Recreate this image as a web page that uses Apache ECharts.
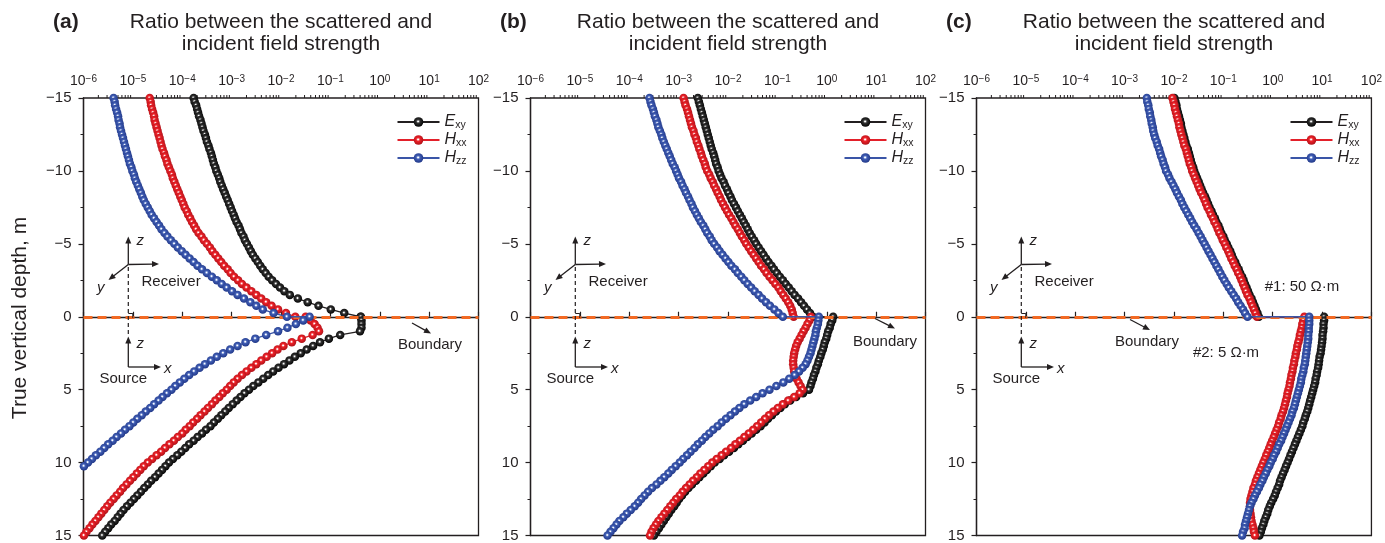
<!DOCTYPE html>
<html><head><meta charset="utf-8">
<script src="https://cdn.jsdelivr.net/npm/echarts@6/dist/echarts.min.js"></script>
<style>html,body{margin:0;padding:0;background:#fff;}#c{width:1385px;height:543px;}</style>
</head><body><div id="c"></div>
<script>
// ---------------- DATA ----------------
const depthUpper = [-15,-14.75,-14.5,-14.25,-14,-13.75,-13.5,-13.25,-13,-12.75,-12.5,-12.25,-12,-11.75,-11.5,-11.25,-11,-10.75,-10.5,-10.25,-10,-9.75,-9.5,-9.25,-9,-8.75,-8.5,-8.25,-8,-7.75,-7.5,-7.25,-7,-6.75,-6.5,-6.25,-6,-5.75,-5.5,-5.25,-5,-4.75,-4.5,-4.25,-4,-3.75,-3.5,-3.25,-3,-2.75,-2.5,-2.25,-2,-1.75,-1.5,-1.25,-1,-0.75,-0.5,-0.25,0];
const depthLower = [0,0.25,0.5,0.75,1,1.25,1.5,1.75,2,2.25,2.5,2.75,3,3.25,3.5,3.75,4,4.25,4.5,4.75,5,5.25,5.5,5.75,6,6.25,6.5,6.75,7,7.25,7.5,7.75,8,8.25,8.5,8.75,9,9.25,9.5,9.75,10,10.25,10.5,10.75,11,11.25,11.5,11.75,12,12.25,12.5,12.75,13,13.25,13.5,13.75,14,14.25,14.5,14.75,15];

// panel (a)
const a_Exy_up = [1.70e-4,1.78e-4,1.91e-4,2.00e-4,2.09e-4,2.19e-4,2.34e-4,2.45e-4,2.57e-4,2.69e-4,2.88e-4,3.02e-4,3.16e-4,3.39e-4,3.55e-4,3.80e-4,3.98e-4,4.17e-4,4.37e-4,4.68e-4,4.90e-4,5.25e-4,5.62e-4,5.89e-4,6.31e-4,6.76e-4,7.24e-4,7.76e-4,8.32e-4,8.91e-4,9.55e-4,1.02e-3,1.10e-3,1.17e-3,1.26e-3,1.38e-3,1.48e-3,1.58e-3,1.74e-3,1.86e-3,2.04e-3,2.24e-3,2.45e-3,2.69e-3,3.02e-3,3.39e-3,3.80e-3,4.27e-3,4.90e-3,5.62e-3,6.61e-3,7.94e-3,9.55e-3,1.17e-2,1.51e-2,2.19e-2,3.47e-2,5.75e-2,0.102,0.191,0.407];
const a_Exy_dn = [0.417,0.427,0.427,0.427,0.398,0.158,9.33e-2,6.17e-2,4.47e-2,3.31e-2,2.51e-2,1.91e-2,1.48e-2,1.15e-2,8.91e-3,6.92e-3,5.50e-3,4.37e-3,3.47e-3,2.75e-3,2.24e-3,1.82e-3,1.51e-3,1.26e-3,1.05e-3,8.71e-4,7.41e-4,6.17e-4,5.25e-4,4.37e-4,3.72e-4,3.02e-4,2.51e-4,2.04e-4,1.70e-4,1.38e-4,1.15e-4,9.55e-5,7.94e-5,6.46e-5,5.37e-5,4.57e-5,3.89e-5,3.31e-5,2.82e-5,2.34e-5,2.00e-5,1.70e-5,1.45e-5,1.23e-5,1.05e-5,8.91e-6,7.59e-6,6.46e-6,5.62e-6,4.90e-6,4.27e-6,3.63e-6,3.16e-6,2.75e-6,2.40e-6];
const a_Hxx_up = [2.19e-5,2.29e-5,2.34e-5,2.45e-5,2.57e-5,2.69e-5,2.75e-5,2.88e-5,3.02e-5,3.16e-5,3.31e-5,3.47e-5,3.63e-5,3.80e-5,3.98e-5,4.27e-5,4.47e-5,4.79e-5,5.01e-5,5.37e-5,5.75e-5,6.17e-5,6.46e-5,6.92e-5,7.41e-5,7.94e-5,8.51e-5,9.12e-5,9.77e-5,1.05e-4,1.12e-4,1.23e-4,1.32e-4,1.45e-4,1.58e-4,1.74e-4,1.91e-4,2.14e-4,2.45e-4,2.75e-4,3.16e-4,3.63e-4,4.07e-4,4.68e-4,5.37e-4,6.17e-4,7.08e-4,8.32e-4,9.55e-4,1.12e-3,1.35e-3,1.62e-3,2.00e-3,2.51e-3,3.16e-3,3.98e-3,5.01e-3,6.46e-3,8.71e-3,1.26e-2,1.95e-2];
const a_Hxx_dn = [3.16e-2,3.98e-2,4.79e-2,5.50e-2,5.89e-2,4.37e-2,2.63e-2,1.66e-2,1.12e-2,8.51e-3,6.61e-3,5.13e-3,3.98e-3,3.16e-3,2.51e-3,2.00e-3,1.62e-3,1.32e-3,1.10e-3,9.33e-4,7.94e-4,6.61e-4,5.62e-4,4.68e-4,3.98e-4,3.31e-4,2.82e-4,2.34e-4,2.00e-4,1.66e-4,1.41e-4,1.17e-4,1.00e-4,8.13e-5,6.76e-5,5.50e-5,4.47e-5,3.72e-5,3.02e-5,2.45e-5,2.00e-5,1.66e-5,1.41e-5,1.20e-5,1.02e-5,8.71e-6,7.41e-6,6.31e-6,5.50e-6,4.68e-6,4.07e-6,3.47e-6,3.02e-6,2.63e-6,2.29e-6,2.00e-6,1.74e-6,1.51e-6,1.32e-6,1.15e-6,1.02e-6];
const a_Hzz_up = [4.07e-6,4.27e-6,4.37e-6,4.57e-6,4.79e-6,5.01e-6,5.13e-6,5.37e-6,5.50e-6,5.75e-6,6.03e-6,6.31e-6,6.61e-6,6.92e-6,7.24e-6,7.59e-6,7.94e-6,8.32e-6,8.71e-6,9.33e-6,9.77e-6,1.05e-5,1.10e-5,1.17e-5,1.26e-5,1.35e-5,1.45e-5,1.55e-5,1.66e-5,1.82e-5,2.00e-5,2.19e-5,2.40e-5,2.69e-5,3.02e-5,3.39e-5,3.80e-5,4.37e-5,5.01e-5,5.89e-5,6.92e-5,8.13e-5,9.77e-5,1.17e-4,1.41e-4,1.70e-4,2.04e-4,2.51e-4,3.16e-4,3.98e-4,5.01e-4,6.31e-4,7.94e-4,1.02e-3,1.32e-3,1.78e-3,2.40e-3,3.16e-3,4.27e-3,7.08e-3,1.32e-2];
const a_Hzz_dn = [3.80e-2,2.82e-2,2.00e-2,1.35e-2,8.71e-3,5.01e-3,3.02e-3,1.91e-3,1.32e-3,9.33e-4,6.76e-4,5.01e-4,3.80e-4,2.88e-4,2.24e-4,1.74e-4,1.38e-4,1.10e-4,8.91e-5,7.24e-5,6.03e-5,4.90e-5,3.98e-5,3.31e-5,2.69e-5,2.24e-5,1.82e-5,1.51e-5,1.23e-5,1.02e-5,8.51e-6,6.92e-6,5.75e-6,4.68e-6,3.89e-6,3.16e-6,2.63e-6,2.19e-6,1.78e-6,1.48e-6,1.23e-6,1.02e-6,8.51e-7];

// panel (b)
const b_Exy_up = [2.45e-3,2.57e-3,2.69e-3,2.82e-3,2.95e-3,3.09e-3,3.24e-3,3.39e-3,3.55e-3,3.72e-3,3.89e-3,4.07e-3,4.27e-3,4.47e-3,4.68e-3,5.01e-3,5.25e-3,5.50e-3,5.75e-3,6.17e-3,6.46e-3,6.92e-3,7.41e-3,8.13e-3,8.71e-3,9.55e-3,1.02e-2,1.12e-2,1.20e-2,1.32e-2,1.45e-2,1.58e-2,1.74e-2,1.91e-2,2.09e-2,2.29e-2,2.51e-2,2.75e-2,3.02e-2,3.39e-2,3.72e-2,4.17e-2,4.68e-2,5.25e-2,5.89e-2,6.61e-2,7.59e-2,8.51e-2,9.77e-2,0.112,0.129,0.148,0.170,0.195,0.224,0.263,0.302,0.347,0.398,0.457,0.525];
const b_Exy_dn = [1.35,1.29,1.20,1.15,1.07,1.02,0.977,0.912,0.871,0.832,0.776,0.741,0.692,0.661,0.617,0.589,0.550,0.525,0.490,0.468,0.437,0.331,0.240,0.182,0.141,0.115,9.33e-2,7.76e-2,6.46e-2,5.50e-2,4.57e-2,3.72e-2,3.02e-2,2.45e-2,2.00e-2,1.62e-2,1.32e-2,1.05e-2,8.32e-3,6.76e-3,5.37e-3,4.47e-3,3.72e-3,3.16e-3,2.63e-3,2.24e-3,1.86e-3,1.58e-3,1.35e-3,1.17e-3,1.02e-3,9.12e-4,8.13e-4,7.08e-4,6.31e-4,5.62e-4,5.01e-4,4.47e-4,3.98e-4,3.55e-4,3.16e-4];
const b_Hxx_up = [1.26e-3,1.32e-3,1.38e-3,1.48e-3,1.55e-3,1.62e-3,1.70e-3,1.78e-3,1.86e-3,2.00e-3,2.09e-3,2.24e-3,2.34e-3,2.51e-3,2.63e-3,2.82e-3,2.95e-3,3.16e-3,3.39e-3,3.55e-3,3.80e-3,4.17e-3,4.47e-3,4.90e-3,5.25e-3,5.75e-3,6.17e-3,6.76e-3,7.24e-3,7.94e-3,8.71e-3,9.55e-3,1.05e-2,1.17e-2,1.29e-2,1.41e-2,1.58e-2,1.74e-2,1.91e-2,2.14e-2,2.34e-2,2.63e-2,2.95e-2,3.31e-2,3.72e-2,4.17e-2,4.68e-2,5.37e-2,6.03e-2,6.92e-2,7.94e-2,9.12e-2,0.105,0.117,0.132,0.148,0.166,0.182,0.195,0.204,0.214];
const b_Hxx_dn = [0.479,0.447,0.407,0.372,0.339,0.309,0.282,0.257,0.240,0.229,0.219,0.214,0.209,0.209,0.214,0.219,0.229,0.245,0.269,0.295,0.324,0.282,0.219,0.166,0.129,0.102,8.32e-2,6.76e-2,5.62e-2,4.68e-2,3.89e-2,3.24e-2,2.63e-2,2.14e-2,1.74e-2,1.41e-2,1.15e-2,9.12e-3,7.41e-3,5.89e-3,4.79e-3,3.98e-3,3.31e-3,2.75e-3,2.34e-3,1.95e-3,1.66e-3,1.41e-3,1.20e-3,1.05e-3,8.91e-4,7.76e-4,6.76e-4,5.89e-4,5.13e-4,4.47e-4,3.89e-4,3.47e-4,3.09e-4,2.82e-4,2.63e-4];
const b_Hzz_up = [2.57e-4,2.69e-4,2.82e-4,3.02e-4,3.16e-4,3.31e-4,3.55e-4,3.72e-4,3.89e-4,4.17e-4,4.47e-4,4.68e-4,5.01e-4,5.37e-4,5.75e-4,6.17e-4,6.61e-4,7.08e-4,7.59e-4,8.32e-4,8.91e-4,9.55e-4,1.02e-3,1.12e-3,1.20e-3,1.32e-3,1.41e-3,1.55e-3,1.66e-3,1.82e-3,1.95e-3,2.14e-3,2.34e-3,2.57e-3,2.82e-3,3.16e-3,3.47e-3,3.80e-3,4.27e-3,4.68e-3,5.25e-3,6.03e-3,6.76e-3,7.76e-3,8.91e-3,1.02e-2,1.17e-2,1.38e-2,1.58e-2,1.86e-2,2.14e-2,2.51e-2,2.95e-2,3.47e-2,4.17e-2,4.90e-2,5.89e-2,7.08e-2,8.71e-2,0.105,0.129];
const b_Hzz_dn = [0.692,0.676,0.661,0.631,0.603,0.589,0.562,0.537,0.513,0.490,0.468,0.437,0.407,0.372,0.324,0.275,0.224,0.174,0.132,9.55e-2,6.92e-2,5.01e-2,3.72e-2,2.82e-2,2.14e-2,1.70e-2,1.38e-2,1.12e-2,9.12e-3,7.41e-3,6.17e-3,5.01e-3,4.17e-3,3.47e-3,2.95e-3,2.45e-3,2.09e-3,1.74e-3,1.48e-3,1.23e-3,1.05e-3,8.71e-4,7.24e-4,6.17e-4,5.13e-4,4.27e-4,3.55e-4,2.88e-4,2.40e-4,2.04e-4,1.74e-4,1.51e-4,1.29e-4,1.07e-4,8.91e-5,7.59e-5,6.31e-5,5.50e-5,4.79e-5,4.17e-5,3.63e-5];

// panel (c)
const c_Exy_up = [1.02e-2,1.07e-2,1.12e-2,1.15e-2,1.20e-2,1.26e-2,1.32e-2,1.38e-2,1.41e-2,1.48e-2,1.55e-2,1.62e-2,1.70e-2,1.78e-2,1.91e-2,2.00e-2,2.09e-2,2.19e-2,2.29e-2,2.45e-2,2.57e-2,2.75e-2,2.95e-2,3.16e-2,3.39e-2,3.63e-2,3.89e-2,4.27e-2,4.57e-2,4.90e-2,5.25e-2,5.75e-2,6.17e-2,6.76e-2,7.24e-2,7.94e-2,8.51e-2,9.12e-2,0.100,0.107,0.117,0.126,0.138,0.148,0.158,0.174,0.186,0.204,0.219,0.240,0.257,0.275,0.295,0.316,0.339,0.372,0.398,0.427,0.457,0.490,0.525];
const c_Exy_dn = [11.0,11.0,10.7,10.7,10.5,10.2,10.2,10.0,9.77,9.55,9.33,8.91,8.71,8.51,8.32,7.94,7.76,7.41,7.24,6.92,6.61,6.31,6.03,5.75,5.50,5.25,5.01,4.68,4.47,4.17,3.98,3.72,3.47,3.24,3.02,2.82,2.63,2.45,2.29,2.14,2.00,1.86,1.74,1.62,1.51,1.41,1.35,1.26,1.17,1.10,1.02,0.933,0.871,0.813,0.776,0.724,0.676,0.646,0.603,0.575,0.537];
const c_Hxx_up = [9.33e-3,9.77e-3,1.02e-2,1.05e-2,1.10e-2,1.15e-2,1.20e-2,1.26e-2,1.29e-2,1.35e-2,1.41e-2,1.48e-2,1.55e-2,1.62e-2,1.74e-2,1.82e-2,1.91e-2,2.00e-2,2.09e-2,2.24e-2,2.34e-2,2.51e-2,2.69e-2,2.88e-2,3.09e-2,3.31e-2,3.55e-2,3.89e-2,4.17e-2,4.47e-2,4.79e-2,5.25e-2,5.62e-2,6.17e-2,6.61e-2,7.24e-2,7.76e-2,8.32e-2,9.12e-2,9.77e-2,0.107,0.115,0.126,0.135,0.145,0.158,0.170,0.186,0.200,0.219,0.234,0.251,0.269,0.288,0.309,0.339,0.363,0.389,0.417,0.447,0.479];
const c_Hxx_dn = [4.37,4.17,3.98,3.89,3.72,3.55,3.47,3.31,3.16,3.09,2.95,2.88,2.75,2.69,2.57,2.51,2.40,2.34,2.24,2.19,2.09,2.00,1.95,1.86,1.78,1.70,1.62,1.51,1.45,1.35,1.29,1.20,1.12,1.05,0.977,0.912,0.851,0.794,0.741,0.692,0.646,0.603,0.562,0.525,0.490,0.457,0.437,0.407,0.389,0.372,0.355,0.347,0.347,0.347,0.355,0.363,0.372,0.389,0.407,0.417,0.437];
const c_Hzz_up = [2.82e-3,2.88e-3,3.02e-3,3.09e-3,3.24e-3,3.31e-3,3.47e-3,3.55e-3,3.72e-3,3.80e-3,3.98e-3,4.17e-3,4.47e-3,4.68e-3,5.01e-3,5.25e-3,5.50e-3,5.89e-3,6.17e-3,6.61e-3,6.92e-3,7.59e-3,8.13e-3,8.91e-3,9.77e-3,1.07e-2,1.15e-2,1.26e-2,1.38e-2,1.48e-2,1.62e-2,1.78e-2,1.95e-2,2.14e-2,2.34e-2,2.57e-2,2.88e-2,3.16e-2,3.47e-2,3.80e-2,4.17e-2,4.57e-2,5.01e-2,5.50e-2,6.03e-2,6.61e-2,7.24e-2,7.94e-2,8.71e-2,9.55e-2,0.105,0.117,0.129,0.145,0.162,0.182,0.200,0.224,0.251,0.275,0.309];
const c_Hzz_dn = [5.50,5.50,5.50,5.37,5.37,5.25,5.25,5.13,5.01,4.90,4.79,4.68,4.57,4.47,4.27,4.17,3.98,3.80,3.72,3.55,3.39,3.24,3.09,2.95,2.82,2.69,2.51,2.40,2.24,2.09,1.95,1.82,1.70,1.58,1.48,1.35,1.26,1.17,1.07,1.00,0.912,0.851,0.776,0.724,0.661,0.617,0.562,0.525,0.479,0.437,0.407,0.372,0.347,0.331,0.316,0.302,0.288,0.275,0.269,0.251,0.240];

const seriesNames = ['Exy','Hxx','Hzz'];
const panelLetters = ['(a)','(b)','(c)'];
const titleLines = ['Ratio between the scattered and','incident field strength'];
const yTicks = [-15,-10,-5,0,5,10,15];
const yTickLabels = ['\u221215','\u221210','\u22125','0','5','10','15'];
const xTickExps = [-6,-5,-4,-3,-2,-1,0,1,2];
const xTickLabels = ['\u22126','\u22125','\u22124','\u22123','\u22122','\u22121','0','1','2'];
const boundaryDepth = [0];
const layerLabels = ['#1: 50 \u03A9\u00B7m','#2: 5 \u03A9\u00B7m'];

// ---------------- LAYOUT / STYLE ----------------
const FONT = '"Liberation Sans", Arial, Helvetica, sans-serif';
const INK = '#231f20';
const gridLeft = [83.5, 530.5, 976.5];
const gridTop = 98, gridW = 395, gridH = 440;
const palette = {
  Exy: {line:'#231f20', light:'#8a8a8a', mid:'#2e2e2e', dark:'#050505'},
  Hxx: {line:'#e3202a', light:'#f78a8d', mid:'#ec2027', dark:'#b0131a'},
  Hzz: {line:'#3a55a7', light:'#9aaee0', mid:'#3f5cb2', dark:'#22398a'}
};
function ball(p){
  return new echarts.graphic.RadialGradient(0.46,0.44,0.55,[
    {offset:0,color:'#ffffff'},{offset:0.1,color:'#ffffff'},{offset:0.2,color:p.light},
    {offset:0.38,color:p.mid},{offset:1,color:p.dark}]);
}
const panelData = [
  {Exy:[a_Exy_up,a_Exy_dn], Hxx:[a_Hxx_up,a_Hxx_dn], Hzz:[a_Hzz_up,a_Hzz_dn]},
  {Exy:[b_Exy_up,b_Exy_dn], Hxx:[b_Hxx_up,b_Hxx_dn], Hzz:[b_Hzz_up,b_Hzz_dn]},
  {Exy:[c_Exy_up,c_Exy_dn], Hxx:[c_Hxx_up,c_Hxx_dn], Hzz:[c_Hzz_up,c_Hzz_dn]}
];
function pairs(up, dn){
  const out = [];
  up.forEach((v,i)=>{ if (v != null) out.push([v, depthUpper[i]]); });
  dn.forEach((v,i)=>{ if (v != null) out.push([v, depthLower[i]]); });
  return out;
}
const minorVals = [];
xTickExps.slice(0,-1).forEach(e => { for (let m = 2; m <= 9; m++) minorVals.push(m * Math.pow(10, e)); });

const grids = [], xAxes = [], yAxes = [], series = [], legends = [];
for (let p = 0; p < 3; p++) {
  grids.push({left:gridLeft[p], top:gridTop, width:gridW, height:gridH, show:true,
    borderColor:INK, borderWidth:1.3, backgroundColor:'transparent'});
  xAxes.push({type:'log', logBase:10, gridIndex:p, position:'top', min:1e-6, max:100, splitNumber:8,
    axisLine:{show:true, lineStyle:{color:INK, width:1.3}},
    axisTick:{show:true, inside:false, length:5, lineStyle:{color:INK, width:1.2}},
    splitLine:{show:false}, minorTick:{show:false},
    axisLabel:{show:true, margin:9, showMinLabel:true, showMaxLabel:true, interval:0, color:INK,
      formatter: v => { const e = Math.round(Math.log10(v)); const i = xTickExps.indexOf(e); return '{b|10}{s|' + xTickLabels[i] + '}'; },
      rich:{ b:{fontSize:14, lineHeight:15, fontFamily:FONT, color:INK},
             s:{fontSize:10, lineHeight:9, verticalAlign:'top', fontFamily:FONT, color:INK} } }
  });
  yAxes.push({type:'value', gridIndex:p, min:yTicks[0], max:yTicks[yTicks.length-1], interval:5, inverse:true,
    axisLine:{show:true, lineStyle:{color:INK, width:1.3}},
    axisTick:{show:true, length:5, lineStyle:{color:INK, width:1.2}},
    minorTick:{show:true, splitNumber:2, length:3, lineStyle:{color:INK, width:1}},
    splitLine:{show:false},
    axisLabel:{margin:12, fontSize:15, fontFamily:FONT, color:INK,
      formatter: v => yTickLabels[yTicks.indexOf(v)]}
  });
  series.push({type:'line', name:'boundary', xAxisIndex:p, yAxisIndex:p, data:[], z:1, silent:true,
    markLine:{silent:true, symbol:'none', animation:false, label:{show:false},
      lineStyle:{color:'#f26a24', width:3, type:[9,5]},
      data: boundaryDepth.map(d => ({yAxis:d}))}});
  series.push({type:'custom', xAxisIndex:p, yAxisIndex:p, silent:true, clip:false, z:2,
    data: minorVals.map(v => [v, yTicks[0]]),
    renderItem: (params, api) => {
      const pt = api.coord([api.value(0), api.value(1)]);
      return {type:'line', shape:{x1:pt[0], y1:pt[1], x2:pt[0], y2:pt[1]-3}, style:{stroke:INK, lineWidth:1}};
    }});
  seriesNames.forEach((n, k) => {
    const pal = palette[n];
    series.push({type:'line', name:n, xAxisIndex:p, yAxisIndex:p,
      data: pairs(panelData[p][n][0], panelData[p][n][1]),
      symbol:'circle', symbolSize:8.5, showSymbol:true, clip:true, z:3+k,
      lineStyle:{color:pal.line, width:1.3},
      itemStyle:{color:ball(pal), borderWidth:0},
      emphasis:{disabled:true}, animation:false});
  });
  legends.push({orient:'vertical', left:gridLeft[p]+308, top:109, itemWidth:42, itemHeight:12, itemGap:1,
    selectedMode:false, data:seriesNames,
    formatter: n => '{E|' + n.charAt(0) + '}{s|' + n.slice(1) + '}',
    textStyle:{color:INK, fontFamily:FONT, rich:{
      E:{fontSize:16, fontStyle:'italic', lineHeight:18, fontFamily:FONT, color:INK},
      s:{fontSize:10.5, lineHeight:11, verticalAlign:'bottom', fontFamily:FONT, color:INK}}}});
}

// ---------------- ANNOTATIONS ----------------
const G = [];
function txt(x, y, text, opt) {
  G.push({type:'text', x:x, y:y, silent:true, z:50,
    style:Object.assign({text:text, fill:INK, fontFamily:FONT, fontSize:15, align:'left', verticalAlign:'middle'}, opt || {})});
}
function seg(x1, y1, x2, y2, opt) {
  G.push({type:'line', silent:true, z:50, shape:{x1:x1, y1:y1, x2:x2, y2:y2},
    style:Object.assign({stroke:INK, lineWidth:1.3}, opt || {})});
}
function arrow(x1, y1, x2, y2) {
  const dx = x2-x1, dy = y2-y1, L = Math.hypot(dx, dy), ux = dx/L, uy = dy/L, hl = 7, hw = 3;
  const bx = x2-ux*hl, by = y2-uy*hl;
  seg(x1, y1, bx+ux, by+uy);
  G.push({type:'polygon', silent:true, z:50, shape:{points:[[x2,y2],[bx-uy*hw, by+ux*hw],[bx+uy*hw, by-ux*hw]]}, style:{fill:INK}});
}
for (let p = 0; p < 3; p++) {
  const cx = gridLeft[p] + gridW/2;
  txt(gridLeft[p]-30.5, 22.5, panelLetters[p], {fontWeight:'bold', fontSize:21});
  txt(cx, 22.5, titleLines[0], {align:'center', fontSize:21});
  txt(cx, 44, titleLines[1], {align:'center', fontSize:21});
  const dx = gridLeft[p] - gridLeft[0];
  const ox = 128.3 + dx;
  arrow(ox, 264.5, ox, 236.5);
  arrow(ox, 264.5, 159 + dx, 264);
  arrow(ox, 264.5, 108.5 + dx, 280);
  txt(136.5 + dx, 241, 'z', {fontStyle:'italic'});
  txt(100.7 + dx, 288, 'y', {fontStyle:'italic', align:'center'});
  txt(141.5 + dx, 281.5, 'Receiver');
  seg(ox, 267, ox, 335, {lineWidth:1.2, lineDash:[4,3]});
  G.push({type:'polyline', silent:true, z:50, shape:{points:[[ox,313.5],[ox+4.5,313.5],[ox+4.5,318]]}, style:{stroke:INK, lineWidth:1, fill:null}});
  arrow(ox, 367, ox, 336.5);
  arrow(ox, 367, 161 + dx, 367);
  txt(136.5 + dx, 343.5, 'z', {fontStyle:'italic'});
  txt(164 + dx, 368.5, 'x', {fontStyle:'italic'});
  txt(99.5 + dx, 378.5, 'Source');
}
arrow(412, 323, 431, 333.5); txt(430, 344.5, 'Boundary', {align:'center'});
arrow(875, 318.5, 895, 328.5); txt(885, 342, 'Boundary', {align:'center'});
arrow(1130, 319.5, 1150, 330); txt(1147, 342, 'Boundary', {align:'center'});
txt(1302, 287, layerLabels[0], {align:'center'});
txt(1226, 353, layerLabels[1], {align:'center'});
G.push({type:'text', x:20, y:318, rotation:Math.PI/2, silent:true, z:50,
  style:{text:'True vertical depth, m', fill:INK, fontFamily:FONT, fontSize:21, align:'center', verticalAlign:'middle'}});

const chart = echarts.init(document.getElementById('c'), null, {renderer:'canvas'});
chart.setOption({
  backgroundColor:'#ffffff', animation:false,
  textStyle:{fontFamily:FONT},
  grid:grids, xAxis:xAxes, yAxis:yAxes, series:series, legend:legends, graphic:G
});
</script>
</body></html>
